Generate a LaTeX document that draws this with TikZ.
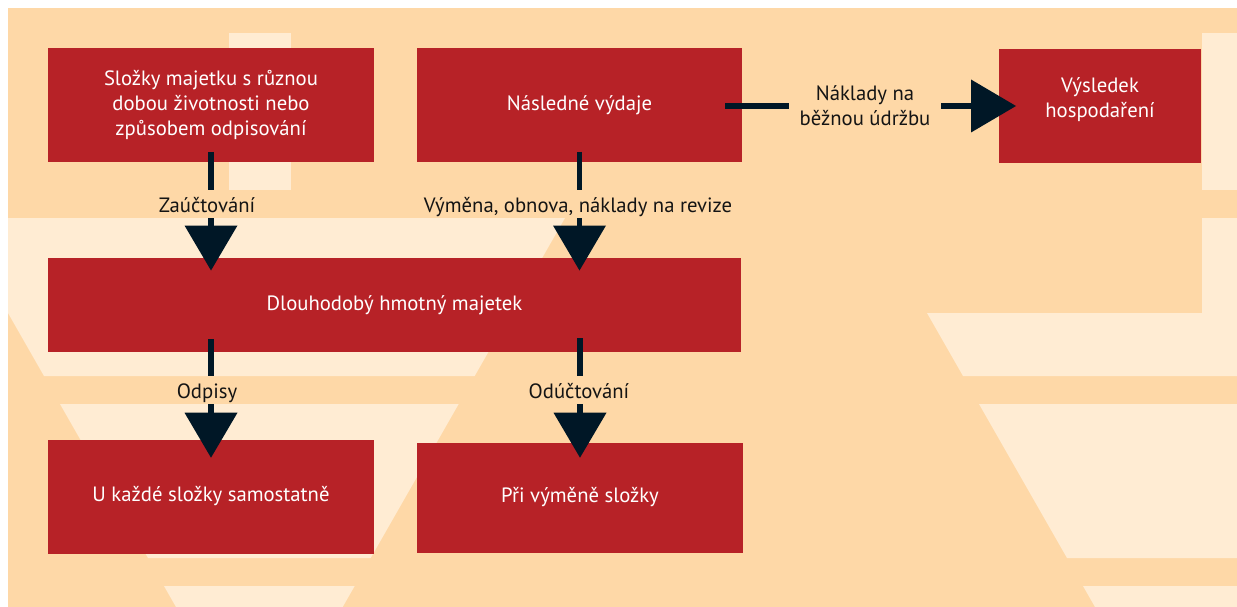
\documentclass[tikz,border=0pt]{standalone}
\usepackage{fontspec}
\setmainfont{PT Sans}
\usetikzlibrary{arrows.meta}
\definecolor{peach}{RGB}{254,216,167}
\definecolor{lightpeach}{RGB}{255,236,211}
\definecolor{boxred}{RGB}{183,34,39}
\definecolor{arrowink}{RGB}{0,23,38}
\definecolor{labelink}{RGB}{20,20,20}
\begin{document}
\begin{tikzpicture}[x=1pt,y=-1pt,font=\fontsize{20.7}{25}\selectfont,
  box/.style={fill=boxred,text=white,inner sep=0pt,outer sep=0pt,align=center},
  lab/.style={text=labelink,inner sep=0pt,outer sep=0pt,text height=16pt,text depth=0pt,minimum height=28pt},
  conn/.style={draw=arrowink,line width=5.7pt},
  headed/.style={-{Triangle[width=53pt,length=45pt,line width=0pt]}}]
\useasboundingbox (0,0) rectangle (1237,607);
% background
\fill[white] (0,0) rectangle (1237,607);
\fill[peach] (8,8) rectangle (1237,607);
\fill[lightpeach] (229,33) rectangle (291,190);
\fill[lightpeach] (1202,33) rectangle (1237,190);
\fill[lightpeach] (1202,218) rectangle (1237,313);
\fill[lightpeach] (8,218) -- (565,218) -- (474.7,376) -- (44,376) -- (8,313) -- cycle;
\fill[lightpeach] (60,404) -- (458.7,404) -- (370.7,558) -- (148,558) -- cycle;
\fill[lightpeach] (164,586) -- (354.7,586) -- (342.7,607) -- (176,607) -- cycle;
\fill[lightpeach] (927,313) -- (1237,313) -- (1237,376) -- (963,376) -- cycle;
\fill[lightpeach] (979,404) -- (1237,404) -- (1237,558) -- (1067,558) -- cycle;
\fill[lightpeach] (1083,586) -- (1237,586) -- (1237,607) -- (1095,607) -- cycle;
% boxes
\node[box,minimum width=326pt,minimum height=114pt] (b1) at (211,105) {Složky majetku s různou\\dobou životnosti nebo\\způsobem odpisování};
\node[box,minimum width=325pt,minimum height=114pt] (b2) at (579.5,105) {Následné výdaje};
\node[box,minimum width=202pt,minimum height=114pt] (b3) at (1100,106) {\raisebox{0.5pt}[0pt][0pt]{\begin{tabular}{@{}c@{}}Výsledek\\hospodaření\end{tabular}}};
\node[box,minimum width=693pt,minimum height=94pt] (b4) at (394.5,305) {Dlouhodobý hmotný majetek};
\node[box,minimum width=326pt,minimum height=114pt,text height=14pt,text depth=6pt] (b5) at (211,497) {U každé složky samostatně};
\node[box,minimum width=326pt,minimum height=110pt,text height=14pt,text depth=6pt] (b6) at (580,498) {Při výměně složky};
% labels
\node[lab] (l1) at (207,204) {Zaúčtování};
\node[lab] (l2) at (578,204) {Výměna, obnova, náklady na revize};
\node[lab] (l3) at (207,390) {Odpisy};
\node[lab] (l4) at (579,390) {Odúčtování};
\node[text=labelink,inner sep=0pt,outer sep=0pt,align=center,minimum width=152pt] (l5) at (865,106) {Náklady na\\běžnou údržbu};
% connectors
\draw[conn,shorten <=-10pt] (b1.south) -- (b1.south |- l1.north);
\draw[conn,headed,shorten >=-12.5pt] (b1.south |- l1.south) -- (b1.south |- b4.north);
\draw[conn,shorten <=-10pt] (b2.south) -- (b2.south |- l2.north);
\draw[conn,headed,shorten >=-12.5pt] (b2.south |- l2.south) -- (b2.south |- b4.north);
\draw[conn,shorten <=-13pt] (b5.north |- b4.south) -- (b5.north |- l3.north);
\draw[conn,headed,shorten >=-17.7pt] (b5.north |- l3.south) -- (b5.north);
\draw[conn,shorten <=-14pt] (b6.north |- b4.south) -- (b6.north |- l4.north);
\draw[conn,headed,shorten >=-14.7pt] (b6.north |- l4.south) -- (b6.north);
\draw[conn,shorten <=-17pt] (b2.east |- b3.west) -- (l5.west |- b3.west);
\draw[conn,headed,shorten >=-17pt] (l5.east |- b3.west) -- (b3.west);
\end{tikzpicture}
\end{document}
